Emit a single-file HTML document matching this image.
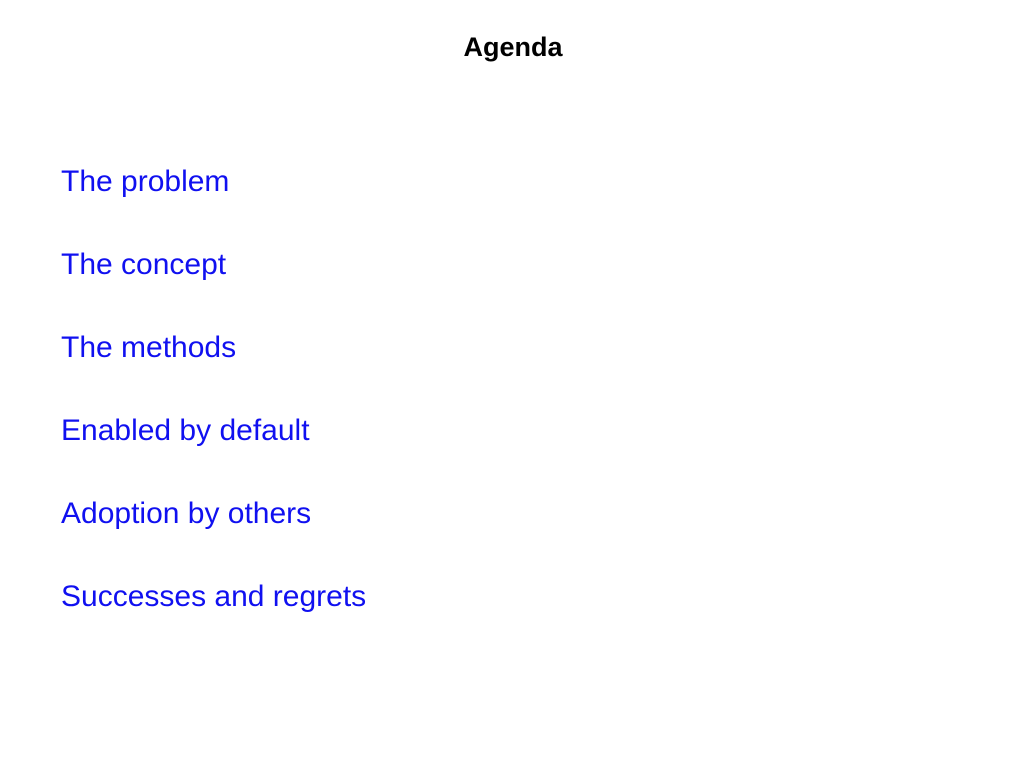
<!DOCTYPE html>
<html><head><meta charset="utf-8"><style>
html,body{margin:0;padding:0;background:#fff;width:1024px;height:768px;overflow:hidden}
.t{position:absolute;left:0;width:1026px;text-align:center;top:29px;font:bold 27px/36px "Liberation Sans",sans-serif;color:#000}
.i{position:absolute;left:61px;font:30px/36px "Liberation Sans",sans-serif;color:#1010f0;white-space:nowrap}
</style></head><body>
<div class="t">Agenda</div>
<div class="i" style="top:164px">The problem</div>
<div class="i" style="top:247px">The concept</div>
<div class="i" style="top:330px">The methods</div>
<div class="i" style="top:413px">Enabled by default</div>
<div class="i" style="top:496px">Adoption by others</div>
<div class="i" style="top:579px">Successes and regrets</div>
</body></html>
